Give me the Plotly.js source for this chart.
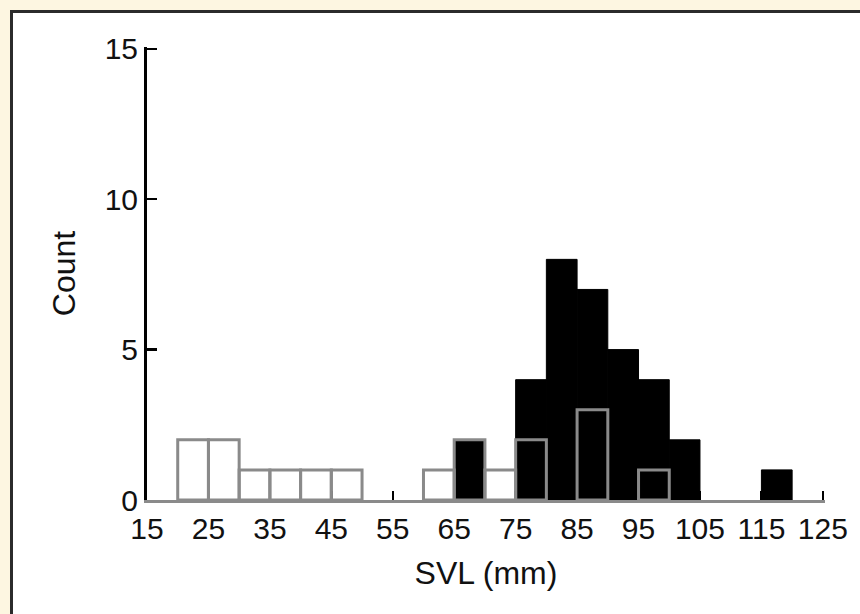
<!DOCTYPE html>
<html>
<head>
<meta charset="utf-8">
<script src="https://cdn.plot.ly/plotly-3.0.1.min.js"></script>
<style>
  html, body { margin: 0; padding: 0; background: #fdf6e1; }
  #panel { position: absolute; left: 10px; top: 10px; width: 900px; height: 700px;
           background: #ffffff; border: 3px solid #2b2b2b; box-sizing: border-box; }
  #chart { position: absolute; left: 0; top: 0; width: 860px; height: 614px; }
</style>
</head>
<body>
<div id="panel"></div>
<div id="chart"></div>
<script>
// Bin starts (mm) and counts, bin width 5 mm
const binWidth = 5;
const blackBinStarts = [65, 75, 80, 85, 90, 95, 100, 115];
const blackCounts    = [2,  4,  8,  7,  5,  4,  2,   1];
const openBinStarts  = [20, 25, 30, 35, 40, 45, 60, 65, 70, 75, 85, 95];
const openCounts     = [2,  2,  1,  1,  1,  1,  1,  2,  1,  2,  3,  1];
const xTickVals = [15, 25, 35, 45, 55, 65, 75, 85, 95, 105, 115, 125];
const yTickVals = [0, 5, 10, 15];

const centers = arr => arr.map(s => s + binWidth / 2);

const traces = [
  {
    type: 'bar',
    x: centers(blackBinStarts),
    y: blackCounts,
    width: binWidth,
    marker: { color: '#000000', line: { color: '#000000', width: 1 } },
    hoverinfo: 'x+y'
  },
  {
    type: 'bar',
    x: centers(openBinStarts),
    y: openCounts,
    width: binWidth,
    marker: { color: 'rgba(0,0,0,0)', line: { color: '#8a8a8a', width: 3 } },
    hoverinfo: 'x+y'
  }
];

const tickFont = { family: '"Liberation Sans", Arial, sans-serif', size: 30, color: '#111111' };
const titleFont = { family: '"Liberation Sans", Arial, sans-serif', size: 32, color: '#111111' };

const layout = {
  width: 860, height: 614,
  paper_bgcolor: 'rgba(0,0,0,0)',
  plot_bgcolor: 'rgba(0,0,0,0)',
  showlegend: false,
  barmode: 'overlay',
  margin: { l: 147, r: 35, t: 47, b: 114 },
  xaxis: {
    range: [15, 125.35],
    tickvals: xTickVals,
    ticktext: xTickVals.map(String),
    ticks: 'inside', ticklen: 9, tickwidth: 2.5, tickcolor: '#000000',
    showline: true, linecolor: '#8a8a8a', linewidth: 3,
    showgrid: false, zeroline: false,
    tickfont: tickFont,
    layer: 'below traces',
    title: { text: 'SVL (mm)', font: titleFont, standoff: 18 }
  },
  yaxis: {
    range: [0, 15.06],
    tickvals: yTickVals,
    ticktext: yTickVals.map(String),
    ticks: 'inside', ticklen: 10, tickwidth: 2.5, tickcolor: '#000000',
    showline: true, linecolor: '#000000', linewidth: 3,
    showgrid: false, zeroline: false,
    tickfont: tickFont,
    layer: 'below traces',
    title: { text: 'Count', font: titleFont, standoff: 20 }
  }
};

Plotly.newPlot('chart', traces, layout, { displayModeBar: false, staticPlot: true });
</script>
</body>
</html>
